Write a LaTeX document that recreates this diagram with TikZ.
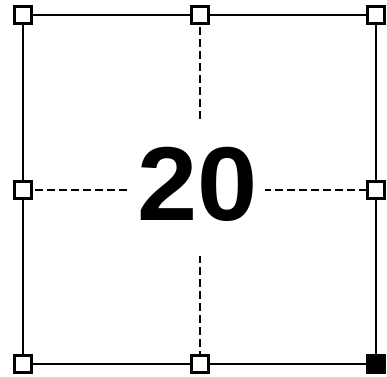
\documentclass[tikz,border=0pt]{standalone}
\usepackage{fontspec}
\setmainfont{Liberation Sans}
\begin{document}
\begin{tikzpicture}[x=1pt,y=-1pt,
  handle/.style={draw=black,line width=2.2pt,fill=white,minimum size=17pt,inner sep=0pt,outer sep=0pt},
  solidhandle/.style={draw=black,line width=2.2pt,fill=black,minimum size=17pt,inner sep=0pt,outer sep=0pt},
  edge/.style={line width=1.4pt},
  guide/.style={line width=1.1pt,dash pattern=on 8pt off 4pt},
  gapbox/.style={fill=white,minimum width=135pt,minimum height=133pt,inner sep=0pt},
  numtext/.style={font=\fontsize{105}{105}\selectfont\bfseries,inner sep=0pt,xscale=1.03}]
\useasboundingbox (0,0) rectangle (387,376);
% handles positions
\coordinate (ptl) at (23,15);
\coordinate (ptm) at (200,15);
\coordinate (ptr) at (376,15);
\coordinate (pml) at (23,190);
\coordinate (pmr) at (376,190);
\coordinate (pbl) at (23,364);
\coordinate (pbm) at (200,364);
\coordinate (pbr) at (376,364);
% guides
\draw[guide] (ptm) -- (pbm);
\draw[guide] (pml) -- (pmr);
\node[gapbox] (gap) at (197.5,189.5) {};
\node[numtext] (num) at (197.5,184) {20};
% outline
\draw[edge] (ptl) -- (ptr) -- (pbr) -- (pbl) -- cycle;
% handles
\node[handle] (tl) at (ptl) {};
\node[handle] (tm) at (ptm) {};
\node[handle] (tr) at (ptr) {};
\node[handle] (ml) at (pml) {};
\node[handle] (mr) at (pmr) {};
\node[handle] (bl) at (pbl) {};
\node[handle] (bm) at (pbm) {};
\node[solidhandle] (br) at (pbr) {};
\end{tikzpicture}
\end{document}
